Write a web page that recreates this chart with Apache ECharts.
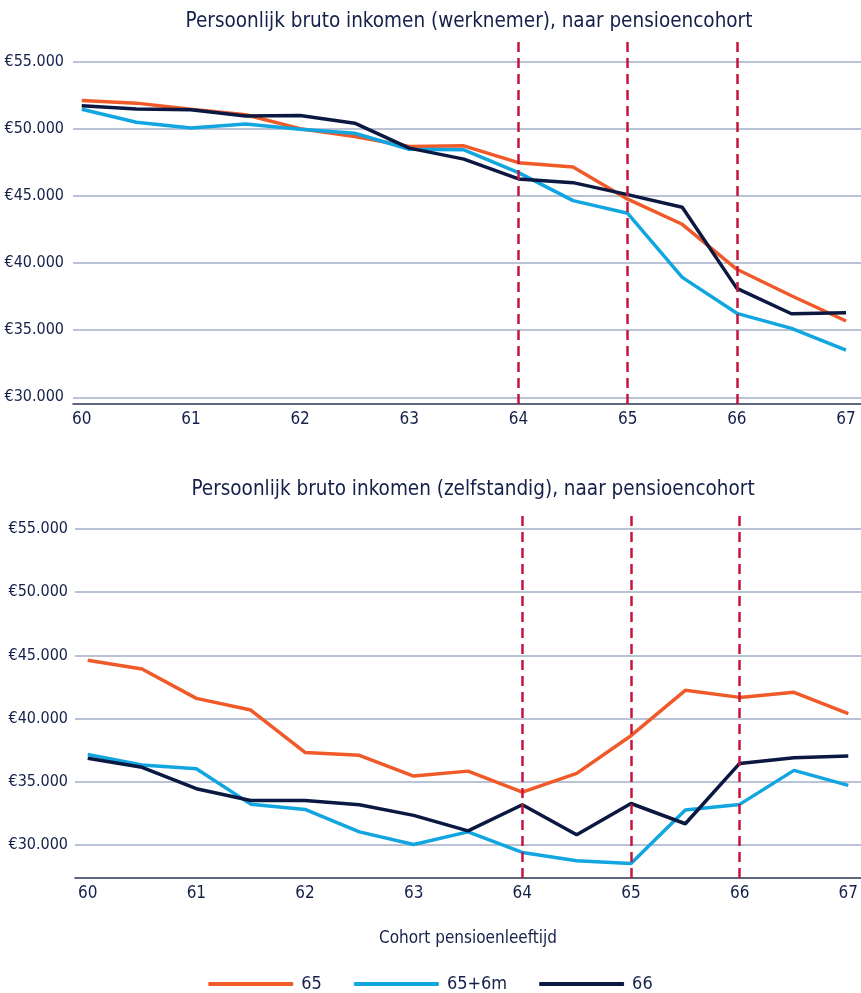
<!DOCTYPE html>
<html>
<head>
<meta charset="utf-8">
<script src="https://cdn.jsdelivr.net/npm/echarts@6/dist/echarts.min.js"></script>
<style>
  html, body { margin: 0; padding: 0; background: #fff; }
  #chart { width: 861px; height: 993px; }
</style>
</head>
<body>
<div id="chart"></div>
<script>
  // leeftijden (halfjaar stappen)
  var ages = [60, 60.5, 61, 61.5, 62, 62.5, 63, 63.5, 64, 64.5, 65, 65.5, 66, 66.5, 67];
  var xTicks = [60, 61, 62, 63, 64, 65, 66, 67];
  var yTicks = [30000, 35000, 40000, 45000, 50000, 55000];
  var cohortLines = [64, 65, 66];
  var seriesNames = ['65', '65+6m', '66'];

  // werknemer
  var werk65 = [52100, 51900, 51450, 51030, 50000, 49410, 48670, 48720, 47470, 47150, 44750, 42880, 39530, 37560, 35680];
  var werk65_6m = [51450, 50480, 50040, 50340, 49960, 49660, 48470, 48420, 46730, 44640, 43700, 38930, 36250, 35130, 33520];
  var werk66 = [51700, 51470, 51400, 50950, 50980, 50410, 48550, 47730, 46260, 45980, 45090, 44150, 38110, 36220, 36300];

  // zelfstandig
  var zelf65 = [44610, 43920, 41600, 40680, 37330, 37100, 35460, 35850, 34190, 35670, 38650, 42240, 41680, 42080, 40390];
  var zelf65_6m = [37170, 36330, 36040, 33240, 32820, 31050, 30050, 31050, 29420, 28760, 28550, 32770, 33220, 35910, 34720];
  var zelf66 = [36860, 36150, 34460, 33530, 33530, 33190, 32350, 31130, 33190, 30820, 33290, 31690, 36460, 36910, 37040];

  var colors = ['#f05a28', '#12a6e0', '#0b1842'];
  var navy = '#14204a';
  var font = "'Liberation Sans Narrow', 'DejaVu Sans Condensed', sans-serif";

  function euro(v) {
    return '€' + String(v).replace(/\B(?=(\d{3})+(?!\d))/g, '.');
  }
  function pairs(vals) {
    return ages.map(function (a, i) { return [a, vals[i]]; });
  }

  function xAxisOpt(idx, min, max, extra) {
    var o = {
      type: 'value', gridIndex: idx, min: min, max: max,
      axisLine: { show: true, lineStyle: { color: '#2a3555', width: 1.5 } },
      axisTick: { show: false, customValues: xTicks },
      splitLine: { show: false },
      axisLabel: { customValues: xTicks, color: navy, fontFamily: font, fontSize: 17, margin: 7 }
    };
    return Object.assign(o, extra || {});
  }
  function yAxisOpt(idx, min, max, margin) {
    return {
      type: 'value', gridIndex: idx, min: min, max: max,
      axisLine: { show: false },
      axisTick: { show: false, customValues: yTicks },
      splitLine: { show: true, lineStyle: { color: '#a3aec8', width: 1.5 } },
      axisLabel: { customValues: yTicks, formatter: euro, color: navy, fontFamily: font, fontSize: 16, margin: margin }
    };
  }

  var markLineOpt = {
    silent: true,
    symbol: 'none',
    label: { show: false },
    lineStyle: { color: '#c8143c', type: [10, 6], width: 2.5 },
    data: cohortLines.map(function (v) { return { xAxis: v }; })
  };

  function lineSeries(name, vals, idx, color, withMark) {
    var s = {
      name: name, type: 'line', xAxisIndex: idx, yAxisIndex: idx,
      data: pairs(vals), symbol: 'none', smooth: false,
      lineStyle: { color: color, width: 3.5 }, itemStyle: { color: color },
      z: 3
    };
    if (withMark) s.markLine = markLineOpt;
    return s;
  }

  var chart = echarts.init(document.getElementById('chart'));
  chart.setOption({
    animation: false,
    color: colors,
    title: [{
      text: 'Persoonlijk bruto inkomen (werknemer), naar pensioencohort',
      left: 464, top: 6, textAlign: 'center',
      textStyle: { color: navy, fontFamily: font, fontSize: 20.5, fontWeight: 'normal' }
    }, {
      text: 'Persoonlijk bruto inkomen (zelfstandig), naar pensioencohort',
      left: 468, top: 474, textAlign: 'center',
      textStyle: { color: navy, fontFamily: font, fontSize: 20.5, fontWeight: 'normal' }
    }],
    grid: [
      { left: 73, right: 0, top: 40, height: 364, outerBoundsMode: 'none' },
      { left: 75, right: 0, top: 515, height: 363, outerBoundsMode: 'none' }
    ],
    xAxis: [
      xAxisOpt(0, 59.92, 67.137),
      xAxisOpt(1, 59.883, 67.117, {
        name: 'Cohort pensioenleeftijd', nameLocation: 'middle', nameGap: 52,
        nameTextStyle: { color: navy, fontFamily: font, fontSize: 17 }
      })
    ],
    yAxis: [
      yAxisOpt(0, 29500, 56600, 9),
      yAxisOpt(1, 27400, 56100, 7)
    ],
    legend: {
      data: seriesNames,
      left: 'center', top: 970,
      icon: 'roundRect', itemWidth: 85, itemHeight: 4, itemGap: 32,
      textStyle: { color: navy, fontFamily: font, fontSize: 18, padding: [0, 0, 0, 3] }
    },
    series: [
      lineSeries('65', werk65, 0, colors[0], true),
      lineSeries('65+6m', werk65_6m, 0, colors[1], false),
      lineSeries('66', werk66, 0, colors[2], false),
      lineSeries('65', zelf65, 1, colors[0], true),
      lineSeries('65+6m', zelf65_6m, 1, colors[1], false),
      lineSeries('66', zelf66, 1, colors[2], false)
    ]
  });
</script>
</body>
</html>
